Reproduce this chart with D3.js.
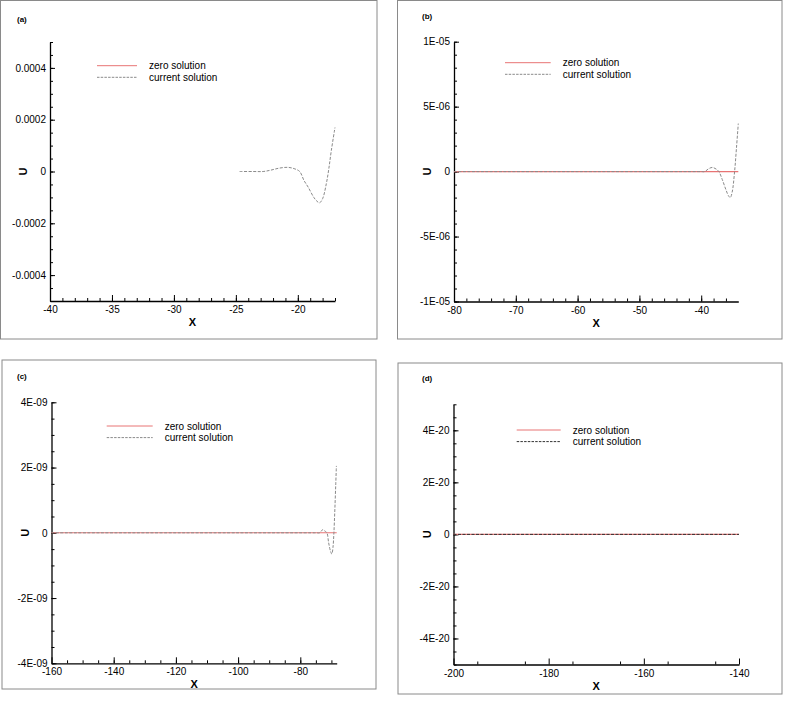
<!DOCTYPE html>
<html>
<head>
<meta charset="utf-8">
<script src="https://cdn.jsdelivr.net/npm/d3@7"></script>
<style>
  body { margin: 0; background: #fff; }
  svg { display: block; font-family: "Liberation Sans", Arial, sans-serif; }
</style>
</head>
<body>
<div id="chart"></div>
<script>
// ---- data ----
// (a)
var aX = [-24.7, -23.6, -22.8, -22.2, -21.5, -20.8, -20.3, -19.85, -19.5, -19.17, -18.71, -18.45, -18.25, -18.0, -17.7, -17.5, -17.3, -17.0];
var aU = [0, 0, 0, 0.000005, 0.000013, 0.000016, 0.000011, 0, -0.000035, -0.00006, -0.0001, -0.000115, -0.000121, -0.000105, -0.000047, 0.00001, 0.00008, 0.00017];
var aXTicks = [-40, -35, -30, -25, -20];
var aXLabels = ["-40", "-35", "-30", "-25", "-20"];
var aXMinor = d3.range(-39, -16.5, 1);
var aYTicks = [0.0004, 0.0002, 0, -0.0002, -0.0004];
var aYLabels = ["0.0004", "0.0002", "0", "-0.0002", "-0.0004"];
var aYMinor = d3.range(-10, 11).map(function(i) { return i * 0.00005; });

// (b)
var bX = [-80, -60, -40, -39.45, -38.8, -38.2, -37.6, -37.14, -36.6, -36.0, -35.6, -35.3, -35.0, -34.6, -34.3, -34.0];
var bU = [0, 0, 0, 0, 2.2e-7, 3.2e-7, 2e-7, 0, -6e-7, -1.4e-6, -1.85e-6, -2e-6, -1.6e-6, 0, 1.8e-6, 3.7e-6];
var bZeroX = [-80, -34];
var bXTicks = [-80, -70, -60, -50, -40];
var bXLabels = ["-80", "-70", "-60", "-50", "-40"];
var bXMinor = d3.range(-78, -34, 2);
var bYTicks = [1e-5, 5e-6, 0, -5e-6, -1e-5];
var bYLabels = ["1E-05", "5E-06", "0", "-5E-06", "-1E-05"];
var bYMinor = d3.range(-10, 11).map(function(i) { return i * 1e-6; });

// (c)
var cX = [-160, -100, -75, -73.8, -73.2, -72.75, -72.2, -71.46, -70.9, -70.3, -69.86, -69.5, -69.2, -68.9, -68.6, -68.4];
var cU = [0, 0, 0, 0, 6e-11, 1e-10, 6e-11, 0, -3e-10, -5.6e-10, -6.5e-10, -4.5e-10, 0, 7e-10, 1.5e-9, 2.05e-9];
var cZeroX = [-160, -68.3];
var cXTicks = [-160, -140, -120, -100, -80];
var cXLabels = ["-160", "-140", "-120", "-100", "-80"];
var cXMinor = d3.range(-155, -68, 5);
var cYTicks = [4e-9, 2e-9, 0, -2e-9, -4e-9];
var cYLabels = ["4E-09", "2E-09", "0", "-2E-09", "-4E-09"];
var cYMinor = d3.range(-8, 9).map(function(i) { return i * 5e-10; });

// (d)
var dX = [-200, -140];
var dU = [0, 0];
var dXTicks = [-200, -180, -160, -140];
var dXLabels = ["-200", "-180", "-160", "-140"];
var dXMinor = [-195, -185, -175, -165, -155, -145];
var dYTicks = [4e-20, 2e-20, 0, -2e-20, -4e-20];
var dYLabels = ["4E-20", "2E-20", "0", "-2E-20", "-4E-20"];
var dYMinor = d3.range(-10, 11).map(function(i) { return i * 5e-21; });

var legendNames = ["zero solution", "current solution"];

var svg = d3.select("#chart").append("svg")
    .attr("width", 785)
    .attr("height", 703);

function drawPanel(p) {
  // frame around the panel
  svg.append("rect")
    .attr("x", p.frame[0]).attr("y", p.frame[1])
    .attr("width", p.frame[2] - p.frame[0]).attr("height", p.frame[3] - p.frame[1])
    .attr("fill", "none").attr("stroke", "#8a8a8a").attr("stroke-width", 1);

  var x = d3.scaleLinear().domain(p.xDomain).range([p.left, p.right]);
  var y = d3.scaleLinear().domain(p.yDomain).range([p.bottom, p.top]);

  // minor ticks
  svg.append("g")
    .attr("transform", "translate(0," + p.bottom + ")")
    .call(d3.axisBottom(x).tickValues(p.xMinor).tickSize(-3).tickFormat(""))
    .call(function(g) { g.select(".domain").remove(); });
  svg.append("g")
    .attr("transform", "translate(" + p.left + ",0)")
    .call(d3.axisLeft(y).tickValues(p.yMinor).tickSize(-3).tickFormat(""))
    .call(function(g) { g.select(".domain").remove(); });

  // main axes
  var xa = svg.append("g")
    .attr("transform", "translate(0," + p.bottom + ")")
    .call(d3.axisBottom(x).tickValues(p.xTicks).tickSizeInner(-6).tickSizeOuter(0).tickPadding(5)
      .tickFormat(function(d, i) { return p.xLabels[i]; }));
  var ya = svg.append("g")
    .attr("transform", "translate(" + p.left + ",0)")
    .call(d3.axisLeft(y).tickValues(p.yTicks).tickSizeInner(-5).tickSizeOuter(0).tickPadding(4)
      .tickFormat(function(d, i) { return p.yLabels[i]; }));
  [xa, ya].forEach(function(g) {
    g.selectAll("text").attr("font-size", 10).attr("fill", "#000")
      .attr("font-family", "Liberation Sans, Arial, sans-serif");
    g.select(".domain").attr("stroke-width", 1.3);
  });

  // axis titles
  svg.append("text")
    .attr("x", (p.left + p.right) / 2).attr("y", p.bottom + 25)
    .attr("text-anchor", "middle").attr("font-size", 11).attr("font-weight", "bold")
    .text("X");
  svg.append("text")
    .attr("transform", "translate(" + (p.left - 23) + "," + y(0) + ") rotate(-90)")
    .attr("text-anchor", "middle").attr("font-size", 11).attr("font-weight", "bold")
    .text("U");

  // panel label
  svg.append("text")
    .attr("x", p.tag[0]).attr("y", p.tag[1])
    .attr("font-size", 8).attr("font-weight", "bold")
    .text(p.name);

  var line = d3.line()
    .x(function(d) { return x(d[0]); })
    .y(function(d) { return y(d[1]); })
    .curve(d3.curveCatmullRom.alpha(0.5));

  if (p.zeroX) {
    svg.append("path")
      .datum(p.zeroX.map(function(v) { return [v, 0]; }))
      .attr("fill", "none").attr("stroke", "#e87474").attr("stroke-width", 1.1)
      .attr("d", line);
  }
  svg.append("path")
    .datum(p.xs.map(function(v, i) { return [v, p.us[i]]; }))
    .attr("fill", "none").attr("stroke", p.curColor).attr("stroke-width", 1)
    .attr("stroke-dasharray", "3,1.5")
    .attr("d", line);

  // legend
  var lg = svg.append("g").attr("transform", "translate(" + p.legend[0] + "," + p.legend[1] + ")");
  legendNames.forEach(function(name, i) {
    lg.append("line")
      .attr("x1", 0).attr("x2", p.legendLen)
      .attr("y1", i * 11.6).attr("y2", i * 11.6)
      .attr("stroke", i === 0 ? "#e87474" : p.curColor)
      .attr("stroke-width", 1)
      .attr("stroke-dasharray", i === 0 ? null : "2.5,1.2");
    lg.append("text")
      .attr("x", p.legendLen + 12).attr("y", i * 11.6).attr("dy", "0.35em")
      .attr("font-size", 10).attr("fill", "#000")
      .text(name);
  });
}

drawPanel({
  name: "(a)", frame: [0.5, 0.5, 377, 339], tag: [17, 22],
  left: 50, right: 335, top: 42, bottom: 301,
  xDomain: [-40, -17], yDomain: [-0.0005, 0.0005],
  xTicks: aXTicks, xLabels: aXLabels, xMinor: aXMinor,
  yTicks: aYTicks, yLabels: aYLabels, yMinor: aYMinor,
  xs: aX, us: aU, zeroX: null, curColor: "#8a8a8a",
  legend: [97, 65.7], legendLen: 40
});
drawPanel({
  name: "(b)", frame: [397.5, 0.5, 782, 339], tag: [422, 19],
  left: 454, right: 738.3, top: 41.7, bottom: 301.5,
  xDomain: [-80, -34], yDomain: [-1e-5, 1e-5],
  xTicks: bXTicks, xLabels: bXLabels, xMinor: bXMinor,
  yTicks: bYTicks, yLabels: bYLabels, yMinor: bYMinor,
  xs: bX, us: bU, zeroX: bZeroX, curColor: "#8a8a8a",
  legend: [505, 62.7], legendLen: 45.7
});
drawPanel({
  name: "(c)", frame: [2, 360, 376, 689], tag: [17, 379],
  left: 51.5, right: 336.7, top: 402.3, bottom: 663.3,
  xDomain: [-160, -68.3], yDomain: [-4e-9, 4e-9],
  xTicks: cXTicks, xLabels: cXLabels, xMinor: cXMinor,
  yTicks: cYTicks, yLabels: cYLabels, yMinor: cYMinor,
  xs: cX, us: cU, zeroX: cZeroX, curColor: "#8a8a8a",
  legend: [106.7, 426], legendLen: 46
});
drawPanel({
  name: "(d)", frame: [398, 363, 782, 694], tag: [422, 381],
  left: 453.5, right: 739, top: 404.3, bottom: 664.5,
  xDomain: [-200, -140], yDomain: [-5e-20, 5e-20],
  xTicks: dXTicks, xLabels: dXLabels, xMinor: dXMinor,
  yTicks: dYTicks, yLabels: dYLabels, yMinor: dYMinor,
  xs: dX, us: dU, zeroX: dX, curColor: "#333",
  legend: [516.7, 430], legendLen: 44
});
</script>
</body>
</html>
